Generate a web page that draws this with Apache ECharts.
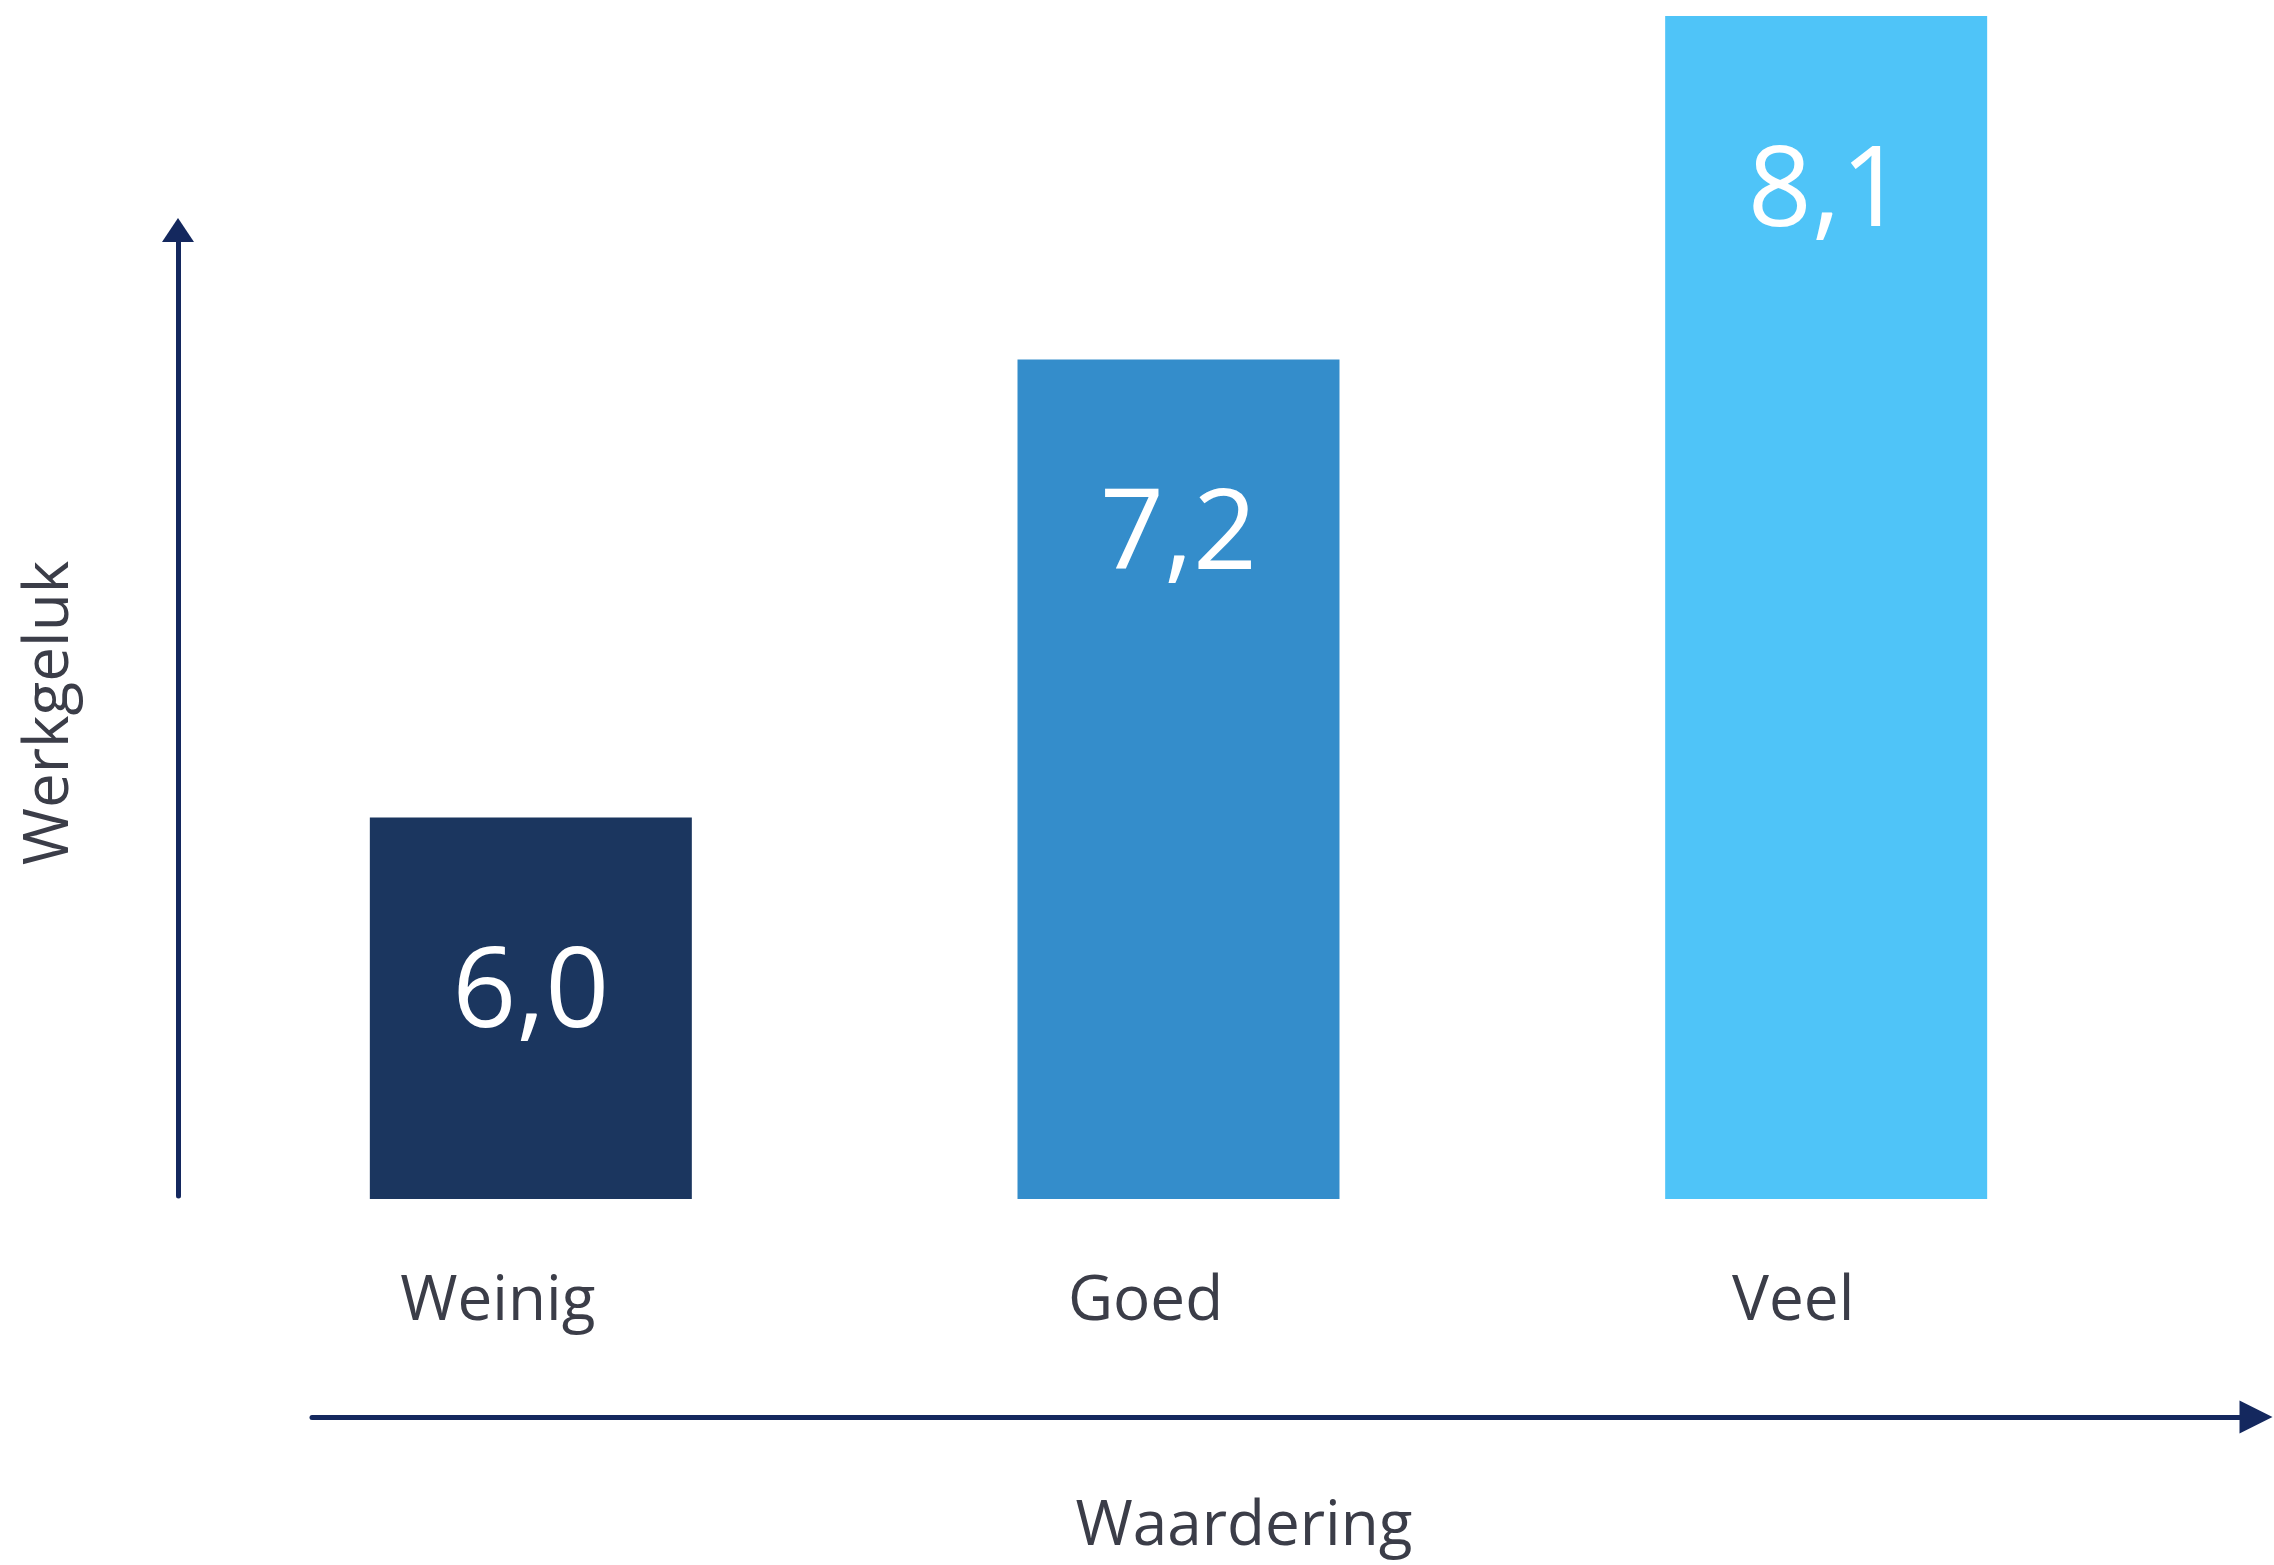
<!DOCTYPE html>
<html>
<head>
<meta charset="utf-8">
<script src="https://cdn.jsdelivr.net/npm/echarts@6/dist/echarts.min.js"></script>
<style>
  html, body { margin: 0; padding: 0; background: #fff; }
  #chart { width: 2274px; height: 1565px; }
</style>
</head>
<body>
<div id="chart"></div>
<script>
// data
var categories = ['Weinig', 'Goed', 'Veel'];
var scores = [6.0, 7.2, 8.1];
var yName = 'Werkgeluk';
var xName = 'Waardering';

var palette = ['#1b365f', '#348dcb', '#4fc4f8'];
var axisColor = '#14285e';
var textColor = '#3b3d48';
var font = 'Open Sans';

var chart = echarts.init(document.getElementById('chart'));

chart.setOption({
  animation: false,
  grid: [
    // bars
    { left: 207, right: 124, top: 16, bottom: 366 },
    // vertical arrow
    { left: 178, width: 10, top: 230, bottom: 369 },
    // horizontal arrow
    { left: 312, right: 18, top: 1407, height: 10 }
  ],
  xAxis: [
    {
      type: 'category',
      gridIndex: 0,
      data: categories,
      axisLine: { show: false },
      axisTick: { show: false },
      axisLabel: {
        margin: 68,
        fontFamily: font,
        fontSize: 62,
        lineHeight: 70,
        color: textColor,
        padding: [0, 66, 0, 0]
      }
    },
    { type: 'value', gridIndex: 1, show: false },
    {
      type: 'value',
      gridIndex: 2,
      axisLine: {
        show: true,
        symbol: ['none', 'triangle'],
        symbolSize: [33, 33],
        lineStyle: { color: axisColor, width: 5 }
      },
      axisTick: { show: false },
      axisLabel: { show: false },
      splitLine: { show: false },
      name: xName,
      nameLocation: 'middle',
      nameGap: 79,
      nameTextStyle: {
        fontFamily: font,
        fontSize: 62,
        color: textColor,
        padding: [0, 80, 0, 0]
      }
    }
  ],
  yAxis: [
    { type: 'value', gridIndex: 0, min: 5, max: 8.1, show: false },
    {
      type: 'value',
      gridIndex: 1,
      axisLine: {
        show: true,
        symbol: ['none', 'triangle'],
        symbolSize: [32, 24],
        lineStyle: { color: axisColor, width: 5 }
      },
      axisTick: { show: false },
      axisLabel: { show: false },
      splitLine: { show: false },
      name: yName,
      nameLocation: 'middle',
      nameRotate: 90,
      nameGap: 97,
      nameTextStyle: {
        fontFamily: font,
        fontSize: 62,
        color: textColor
      }
    },
    { type: 'value', gridIndex: 2, show: false }
  ],
  series: [{
    type: 'bar',
    xAxisIndex: 0,
    yAxisIndex: 0,
    barWidth: 322,
    data: scores.map(function (v, i) {
      return { value: v, itemStyle: { color: palette[i] } };
    }),
    label: {
      show: true,
      position: ['50%', 178],
      align: 'center',
      verticalAlign: 'middle',
      fontFamily: font,
      fontSize: 112,
      color: '#ffffff',
      formatter: function (p) {
        return p.value.toFixed(1).replace('.', ',');
      }
    }
  }]
});
</script>
</body>
</html>
